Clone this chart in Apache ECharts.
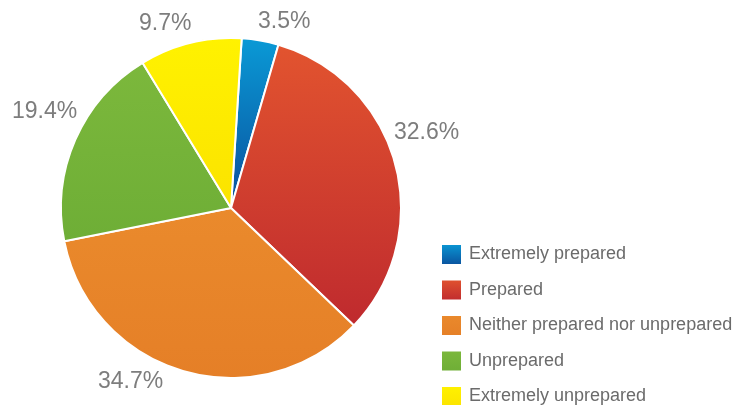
<!DOCTYPE html>
<html>
<head>
<meta charset="utf-8">
<script src="https://cdn.jsdelivr.net/npm/echarts@6/dist/echarts.min.js"></script>
<style>
  html, body { margin: 0; padding: 0; background: #fff; }
  #chart { width: 740px; height: 405px; }
</style>
</head>
<body>
<div id="chart"></div>
<script>
// answers, clockwise from (just past) 12 o'clock
const categories = [
  'Extremely prepared',
  'Prepared',
  'Neither prepared nor unprepared',
  'Unprepared',
  'Extremely unprepared'
];
const shares = [3.5, 32.6, 34.7, 19.4, 9.7];

// top -> bottom gradient for each slice
const sliceColors = [
  ['#0a9ad6', '#0a4f9c'],
  ['#e2542f', '#bf2a2e'],
  ['#ea8a2c', '#e57f27'],
  ['#7cb83c', '#6eae36'],
  ['#fff200', '#fbe300']
];

// where the percentage labels sit (left edge, middle) - layout only
const labelSpots = [[258, 22], [394, 133], [98, 382], [12, 112], [139, 24]];

function vgrad(c) {
  return {
    type: 'linear', x: 0, y: 0, x2: 0, y2: 1,
    colorStops: [{offset: 0, color: c[0]}, {offset: 1, color: c[1]}]
  };
}

const chart = echarts.init(document.getElementById('chart'));

chart.setOption({
  animation: false,
  textStyle: {fontFamily: 'Liberation Sans, Arial, sans-serif'},
  legend: {
    orient: 'vertical',
    left: 440,
    top: 243,
    height: 220,
    padding: 0,
    icon: 'rect',
    itemWidth: 21,
    itemHeight: 21,
    itemGap: 12.5,
    textStyle: {fontSize: 18, color: '#6b6b6b', padding: [0, 0, 0, 2]},
    data: categories
  },
  series: [
    {
      type: 'pie',
      center: [231, 208],
      radius: 170,
      startAngle: 86.4,
      clockwise: true,
      itemStyle: {borderColor: '#fff', borderWidth: 2},
      label: {
        show: true,
        position: 'outside',
        formatter: p => p.value + '%',
        fontSize: 23,
        color: '#7d7d7d',
        overflow: 'none'
      },
      labelLine: {show: false},
      labelLayout: p => ({
        x: labelSpots[p.dataIndex][0],
        y: labelSpots[p.dataIndex][1],
        align: 'left',
        verticalAlign: 'middle'
      }),
      emphasis: {disabled: true},
      data: categories.map((name, i) => ({
        name: name,
        value: shares[i],
        itemStyle: {color: vgrad(sliceColors[i])}
      }))
    }
  ]
});
</script>
</body>
</html>
